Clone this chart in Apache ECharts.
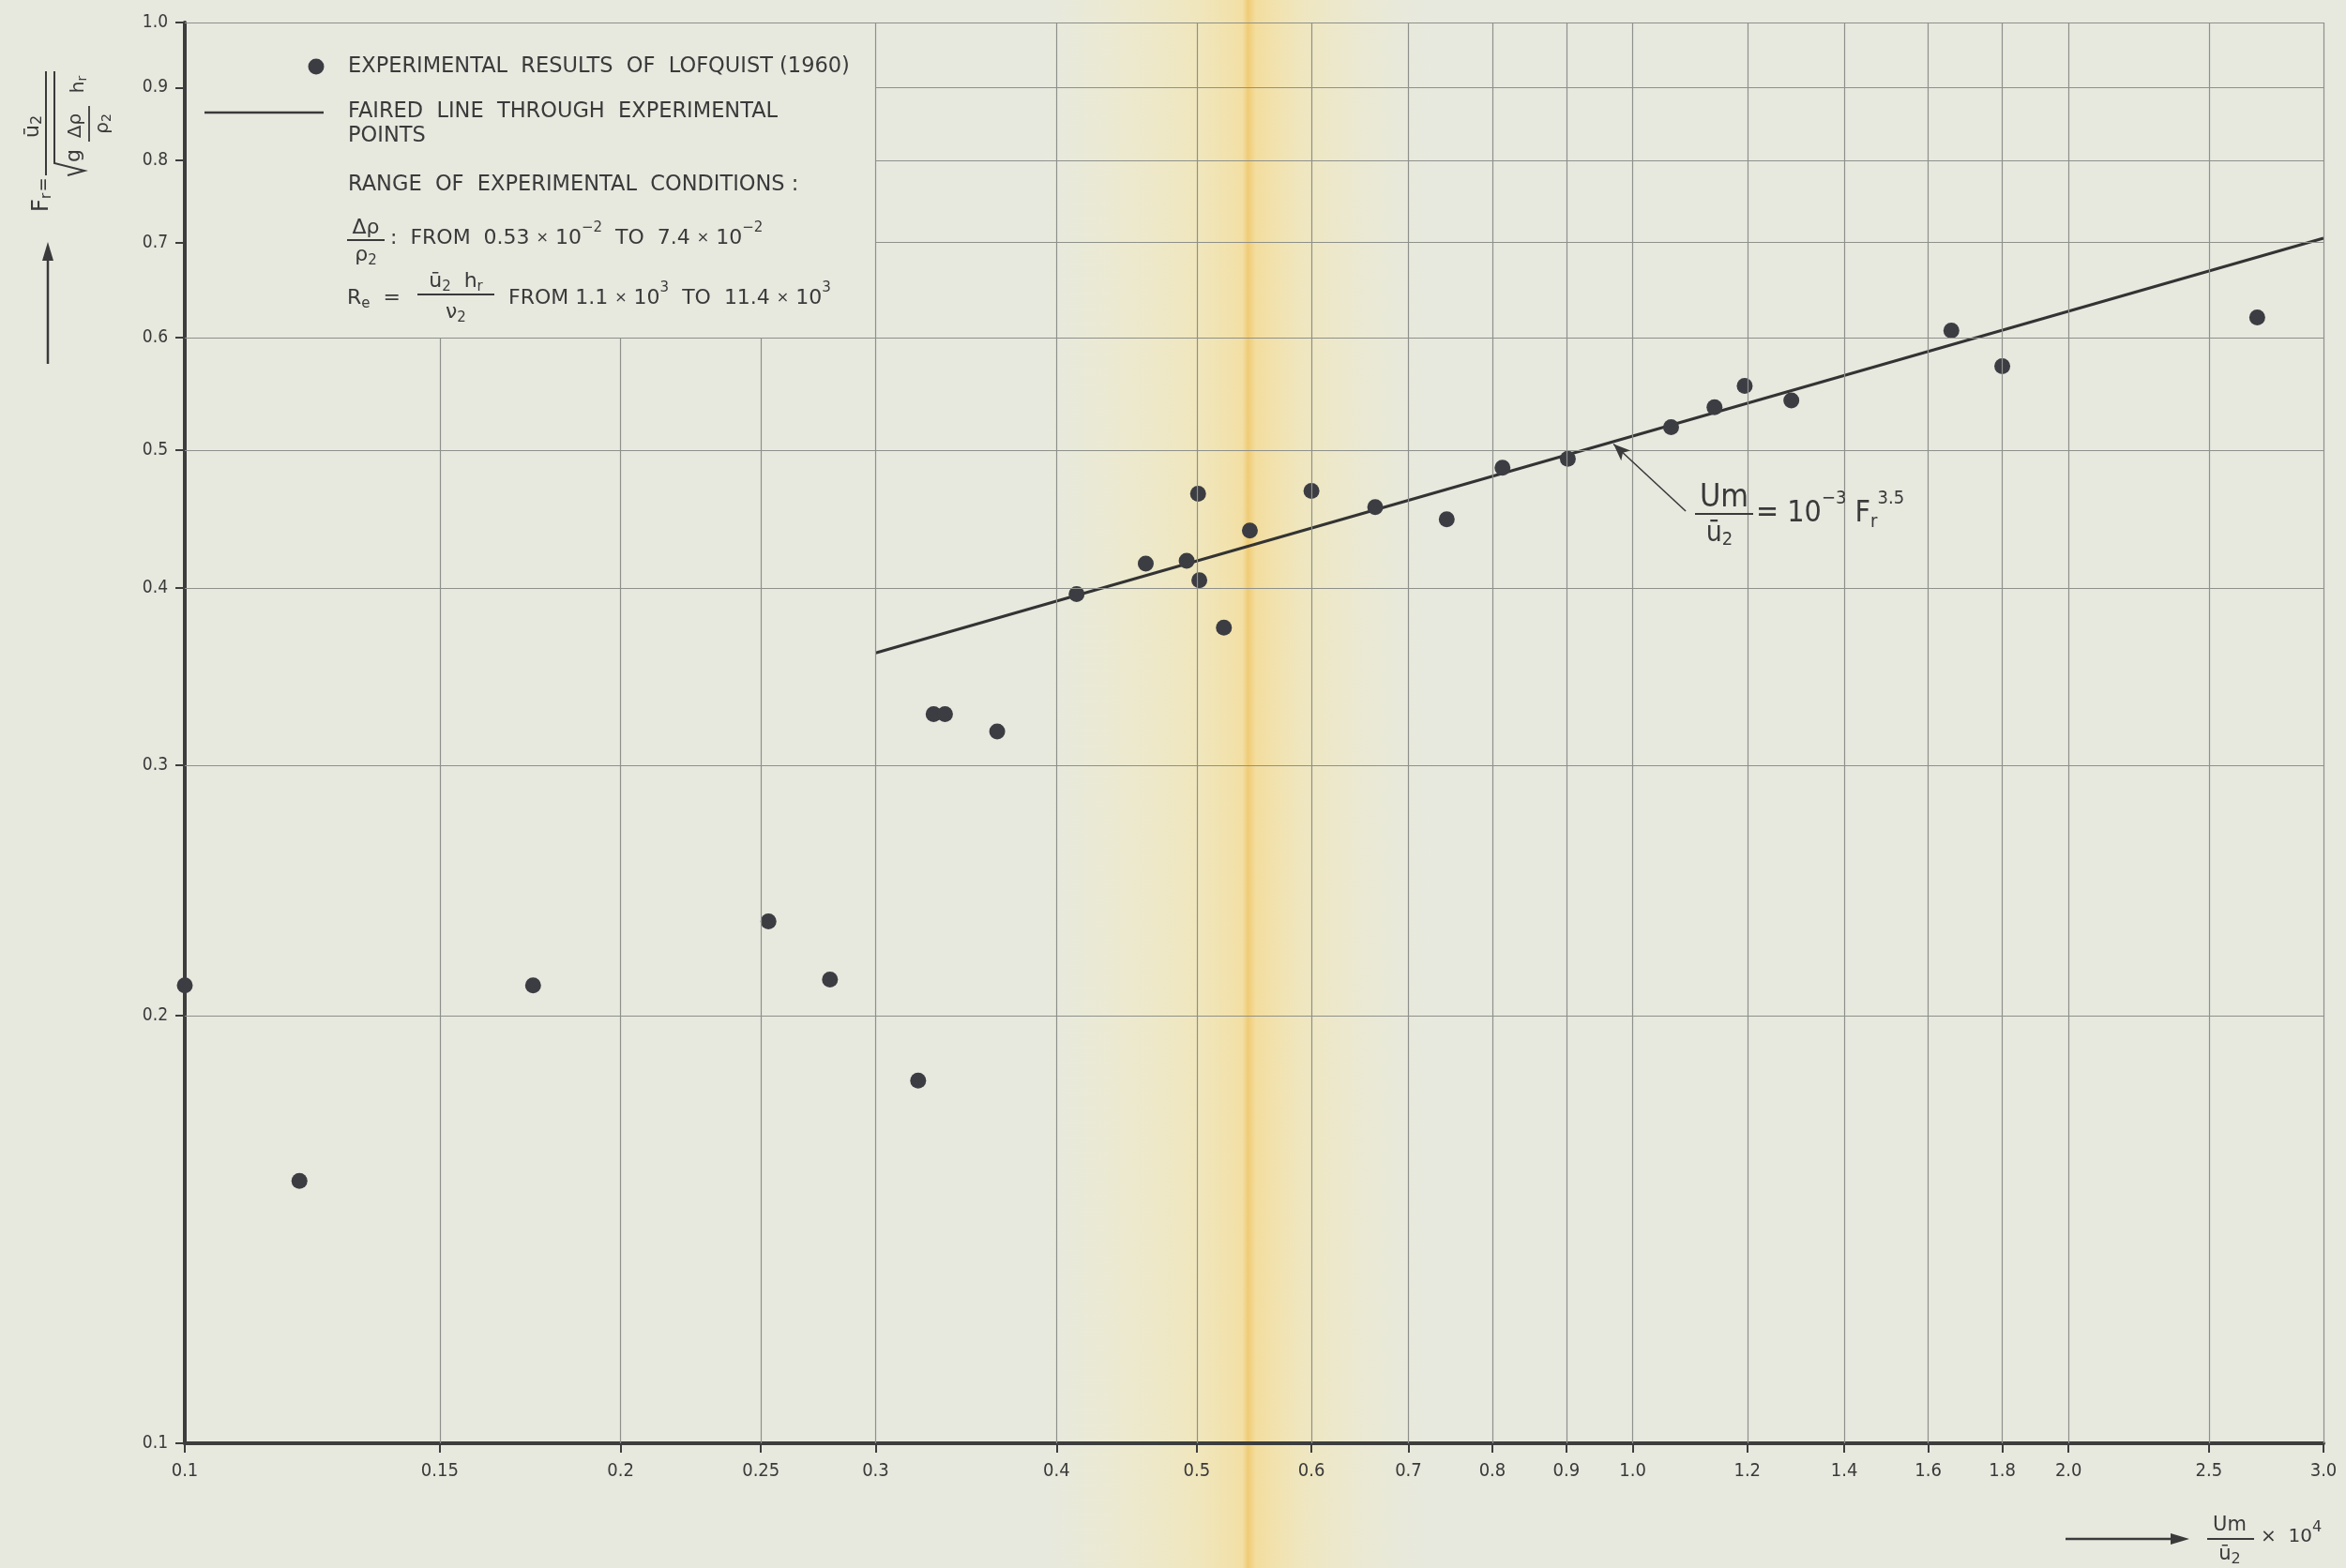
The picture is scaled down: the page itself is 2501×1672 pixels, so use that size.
<!DOCTYPE html>
<html>
<head>
<meta charset="utf-8">
<script src="https://cdn.jsdelivr.net/npm/echarts@6/dist/echarts.min.js"></script>
<style>
html,body{margin:0;padding:0;background:#e7e9df;}
#chart{width:2501px;height:1672px;}
</style>
</head>
<body>
<div id="chart"></div>
<script>
// ---- data ----
const xValues = [0.100,0.120,0.174,0.253,0.279,0.321,0.329,0.335,0.364,0.413,0.461,0.492,0.501,0.502,0.522,0.544,0.600,0.664,0.744,0.813,0.902,1.063,1.139,1.195,1.287,1.66,1.80,2.70];
const yValues = [0.210,0.153,0.210,0.233,0.212,0.180,0.326,0.326,0.317,0.396,0.416,0.418,0.466,0.405,0.375,0.439,0.468,0.456,0.447,0.486,0.493,0.519,0.536,0.555,0.542,0.607,0.573,0.620];
const fitX = [0.3, 3.0];
const fitY = [0.36, 0.705];
const xTicks = [0.1,0.15,0.2,0.25,0.3,0.4,0.5,0.6,0.7,0.8,0.9,1.0,1.2,1.4,1.6,1.8,2.0,2.5,3.0];
const xTickLabels = ["0.1","0.15","0.2","0.25","0.3","0.4","0.5","0.6","0.7","0.8","0.9","1.0","1.2","1.4","1.6","1.8","2.0","2.5","3.0"];
const yTicks = [0.1,0.2,0.3,0.4,0.5,0.6,0.7,0.8,0.9,1.0];
const yTickLabels = ["0.1","0.2","0.3","0.4","0.5","0.6","0.7","0.8","0.9","1.0"];
const legendBox = {xMax: 0.3, yMin: 0.6};   // blank area for the legend (data space)
const arrowFrom = [1.088, 0.453];           // annotation pointer (data space)
const arrowTo = [0.970, 0.505];

// ---- styles ----
const INK = '#3a3a3a';
const GRIDC = '#8e908b';
const F = "'DejaVu Sans', sans-serif";
const FC = "'DejaVu Sans Condensed', 'DejaVu Sans', sans-serif";

const points = xValues.map((x, i) => [x, yValues[i]]);
const fitLine = fitX.map((x, i) => [x, fitY[i]]);
const xMin = xTicks[0], xMax = xTicks[xTicks.length - 1];
const yMin = yTicks[0], yMax = yTicks[yTicks.length - 1];

const vLines = xTicks.filter(x => x > xMin).map(x => [
  {coord: [x, yMin]},
  {coord: [x, (x < legendBox.xMax - 1e-9) ? legendBox.yMin : yMax]}
]);
const hLines = yTicks.filter(y => y > yMin).map(y => [
  {coord: [(y > legendBox.yMin + 1e-9 && y < yMax - 1e-9) ? legendBox.xMax : xMin, y]},
  {coord: [xMax, y]}
]);

function fmt(ticks, labels) {
  return function (v) {
    for (let i = 0; i < ticks.length; i++) {
      if (Math.abs(ticks[i] - v) < 1e-6 * ticks[i]) return labels[i];
    }
    return '';
  };
}

const supS = (fs, up) => ({fontSize: fs, fontFamily: F, fill: INK, padding: [0, 0, up * 2, 0]});
const subS = (fs, dn) => ({fontSize: fs, fontFamily: F, fill: INK, padding: [dn * 2, 0, 0, 0]});
const supC = (fs, up) => ({fontSize: fs, fontFamily: FC, fill: INK, padding: [0, 0, up * 2, 0]});
const subC = (fs, dn) => ({fontSize: fs, fontFamily: FC, fill: INK, padding: [dn * 2, 0, 0, 0]});
const timesS = (fs) => ({fontSize: fs, fontFamily: F, fill: INK});

function txt(x, y, text, opts) {
  opts = opts || {};
  return {
    type: 'text', x: x, y: y, z: 50, silent: true,
    style: {
      text: text, fill: INK,
      fontSize: opts.size || 22, fontFamily: opts.family || F,
      align: opts.align || 'left', verticalAlign: 'middle',
      textAlign: opts.align || 'left', textVerticalAlign: 'middle',
      rich: opts.rich
    }
  };
}
function ln(x1, y1, x2, y2, w) {
  return {type: 'line', z: 50, silent: true, shape: {x1, y1, x2, y2}, style: {stroke: INK, lineWidth: w || 2}};
}

const richLegend = {sup: supS(15, 11), sub: subS(15, 6), x: timesS(16)};

const graphics = [
  // fold band of the scanned sheet
  {
    type: 'rect', z: -100, silent: true,
    shape: {x: 1110, y: 0, width: 420, height: 1672},
    style: {
      fill: {
        type: 'linear', x: 0, y: 0, x2: 1, y2: 0,
        colorStops: [
          {offset: 0.00, color: 'rgba(244,236,190,0)'},
          {offset: 0.18, color: 'rgba(244,234,185,0.35)'},
          {offset: 0.40, color: 'rgba(246,228,165,0.6)'},
          {offset: 0.51, color: 'rgba(246,220,145,0.75)'},
          {offset: 0.525, color: 'rgba(240,202,112,0.95)'},
          {offset: 0.545, color: 'rgba(246,218,142,0.8)'},
          {offset: 0.66, color: 'rgba(246,228,165,0.55)'},
          {offset: 1.00, color: 'rgba(240,236,200,0)'}
        ]
      }
    }
  },
  // legend
  {type: 'circle', z: 50, silent: true, shape: {cx: 337, cy: 71, r: 8.5}, style: {fill: '#3c3d42'}},
  txt(371, 71, 'EXPERIMENTAL  RESULTS  OF  LOFQUIST (1960)', {size: 22.5}),
  ln(218, 120, 345, 120, 2.5),
  txt(371, 119, 'FAIRED  LINE  THROUGH  EXPERIMENTAL', {size: 22.5}),
  txt(371, 145, 'POINTS', {size: 22.5}),
  txt(371, 197, 'RANGE  OF  EXPERIMENTAL  CONDITIONS :', {size: 22.5}),
  txt(390, 243, 'Δρ', {align: 'center'}),
  ln(370, 256, 410, 256, 2),
  txt(390, 272, 'ρ{sub|2}', {align: 'center', rich: richLegend}),
  txt(416, 254, ':  FROM  0.53 {x|×} 10{sup|−2}  TO  7.4 {x|×} 10{sup|−2}', {rich: richLegend}),
  txt(370, 318, 'R{sub|e}  =', {rich: richLegend}),
  txt(486, 300, 'ū{sub|2}  h{sub|r}', {align: 'center', rich: richLegend}),
  ln(445, 314, 527, 314, 2),
  txt(486, 333, 'ν{sub|2}', {align: 'center', rich: richLegend}),
  txt(542, 318, 'FROM 1.1 {x|×} 10{sup|3}  TO  11.4 {x|×} 10{sup|3}', {rich: richLegend}),
  // y-axis title (rotated)
  {
    type: 'group', x: 0, y: 400, rotation: Math.PI / 2, z: 50, silent: true,
    children: [
      {type: 'line', shape: {x1: 12, y1: 51, x2: 126, y2: 51}, style: {stroke: INK, lineWidth: 2.5}},
      {type: 'polygon', shape: {points: [[142, 51], [122, 45], [122, 57]]}, style: {fill: INK}},
      txt(174, 45, 'F{sub|r}', {size: 24, rich: {sub: subS(16, 5)}}),
      txt(203, 47, '=', {align: 'center', size: 20, family: FC}),
      {type: 'line', shape: {x1: 213, y1: 49, x2: 324, y2: 49}, style: {stroke: INK, lineWidth: 2}},
      txt(265, 35, 'ū{sub|2}', {align: 'center', rich: {sub: subS(16, 5)}}),
      {type: 'polyline', shape: {points: [[213, 72], [218, 90], [226, 58], [324, 58]]}, style: {stroke: INK, lineWidth: 2, fill: null}},
      txt(234, 79, 'g', {align: 'center'}),
      txt(266, 81, 'Δρ', {align: 'center', size: 20}),
      {type: 'line', shape: {x1: 249, y1: 95, x2: 287, y2: 95}, style: {stroke: INK, lineWidth: 1.8}},
      txt(268, 110, 'ρ{sub|2}', {align: 'center', size: 20, rich: {sub: subS(14, 4)}}),
      txt(310, 84, 'h{sub|r}', {align: 'center', size: 20, rich: {sub: subS(14, 4)}})
    ]
  },
  // x-axis title
  ln(2202, 1641, 2318, 1641, 2.5),
  {type: 'polygon', z: 50, silent: true, shape: {points: [[2334, 1641], [2314, 1635], [2314, 1647]]}, style: {fill: INK}},
  txt(2377, 1627, 'Um', {align: 'center', size: 21}),
  ln(2353, 1641, 2403, 1641, 2),
  txt(2377, 1658, 'ū{sub|2}', {align: 'center', size: 21, rich: {sub: subS(16, 5)}}),
  txt(2410, 1639, '×  10{sup|4}', {size: 20, rich: {sup: supS(16, 10)}}),
  // annotation of the faired line
  txt(1838, 531, 'Um', {align: 'center', size: 34, family: FC}),
  ln(1807, 548, 1869, 548, 2),
  txt(1833, 569, 'ū{sub|2}', {align: 'center', size: 30, family: FC, rich: {sub: subC(20, 7)}}),
  txt(1872, 548, '= 10{sup|−3} F{sub|r}{sup|3.5}', {size: 32, family: FC, rich: {sup: supC(20, 16), sub: subC(20, 9)}})
];

const chart = echarts.init(document.getElementById('chart'), null, {renderer: 'canvas'});
chart.setOption({
  backgroundColor: '#e7e9df',
  animation: false,
  grid: {left: 197, right: 24, top: 24, bottom: 133, containLabel: false, outerBoundsMode: 'none'},
  xAxis: {
    type: 'log', logBase: 10, min: xMin, max: xMax,
    axisLine: {show: true, onZero: false, lineStyle: {color: '#3d3d3d', width: 4}},
    axisTick: {show: true, customValues: xTicks, length: 10, lineStyle: {color: '#3d3d3d', width: 2}},
    axisLabel: {show: true, customValues: xTicks, formatter: fmt(xTicks, xTickLabels), margin: 20,
      fontFamily: FC, fontSize: 20, color: INK, hideOverlap: false},
    splitLine: {show: false}, minorTick: {show: false}, minorSplitLine: {show: false}
  },
  yAxis: {
    type: 'log', logBase: 10, min: yMin, max: yMax,
    axisLine: {show: true, onZero: false, lineStyle: {color: '#3d3d3d', width: 4}},
    axisTick: {show: true, customValues: yTicks, length: 10, lineStyle: {color: '#3d3d3d', width: 2}},
    axisLabel: {show: true, customValues: yTicks, formatter: fmt(yTicks, yTickLabels), margin: 18,
      fontFamily: FC, fontSize: 19, color: INK, hideOverlap: false},
    splitLine: {show: false}, minorTick: {show: false}, minorSplitLine: {show: false}
  },
  series: [
    {
      name: 'grid', type: 'line', data: [], z: 1, silent: true,
      markLine: {
        silent: true, symbol: ['none', 'none'], animation: false,
        label: {show: false},
        lineStyle: {color: GRIDC, width: 1.2, type: 'solid'},
        emphasis: {disabled: true},
        data: vLines.concat(hLines)
      }
    },
    {
      name: 'FAIRED LINE THROUGH EXPERIMENTAL POINTS', type: 'line', data: fitLine, z: 3,
      symbol: 'none', lineStyle: {color: '#333333', width: 3}, silent: true,
      markLine: {
        silent: true, symbol: ['none', 'arrow'], symbolSize: [11, 18], animation: false,
        label: {show: false}, emphasis: {disabled: true},
        lineStyle: {color: INK, width: 1.6, type: 'solid'},
        data: [[{coord: arrowFrom}, {coord: arrowTo}]]
      }
    },
    {
      name: 'EXPERIMENTAL RESULTS OF LOFQUIST (1960)', type: 'scatter', data: points, z: 4,
      symbol: 'circle', symbolSize: 17, itemStyle: {color: '#3c3d42', opacity: 1}, silent: true
    }
  ],
  graphic: graphics
});
</script>
</body>
</html>
